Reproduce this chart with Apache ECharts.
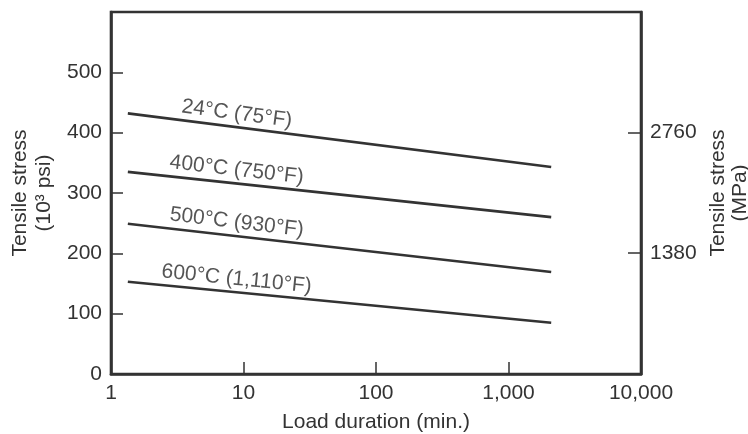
<!DOCTYPE html>
<html>
<head>
<meta charset="utf-8">
<script src="https://cdn.jsdelivr.net/npm/echarts@6/dist/echarts.min.js"></script>
<style>
html,body{margin:0;padding:0;background:#fff;}
#chart{width:748px;height:434px;}
</style>
</head>
<body>
<div id="chart"></div>
<script>
// Data (x = load duration in min., y = tensile stress in 10^3 psi)
var curveNames = ['24°C (75°F)', '400°C (750°F)', '500°C (930°F)', '600°C (1,110°F)'];
var durations = [1.34, 2100];
var stress24 = [432, 343];
var stress400 = [335, 260];
var stress500 = [249, 169];
var stress600 = [153, 85];
var xTickLabels = ['1', '10', '100', '1,000', '10,000'];
var mpaTicks = [1380, 2760];
// label anchor points on each curve (data coords)
var labelX = 8.7;
var labelY = [409, 316, 229, 135];
var labelRot = [-7.5, -6.5, -6.8, -5.8];

var allStress = [stress24, stress400, stress500, stress600];
var ink = '#333';
var font = 'Liberation Sans, Arial, Helvetica, sans-serif';

var series = allStress.map(function (s, i) {
  return {
    type: 'line',
    name: curveNames[i],
    data: durations.map(function (d, j) { return [d, s[j]]; }),
    showSymbol: false,
    symbol: 'none',
    lineStyle: { color: ink, width: 2.6 },
    silent: true,
    z: 3
  };
});
series.push({
  type: 'scatter',
  symbolSize: 0,
  silent: true,
  data: curveNames.map(function (n, i) {
    return {
      value: [labelX, labelY[i]],
      name: n,
      label: { rotate: labelRot[i] }
    };
  }),
  label: {
    show: true,
    position: 'top',
    distance: 3,
    formatter: function (p) { return p.name; },
    color: '#2a2a2a',
    fontSize: 21,
    fontFamily: font
  }
});

var chart = echarts.init(document.getElementById('chart'), null, { renderer: 'canvas' });
chart.setOption({
  backgroundColor: '#fff',
  animation: false,
  grid: {
    left: 111, right: 107, top: 12, bottom: 60,
    outerBoundsMode: 'none', containLabel: false,
    show: true, borderColor: ink, borderWidth: 2.6, backgroundColor: 'transparent'
  },
  xAxis: {
    type: 'log', logBase: 10, min: 1, max: 10000,
    name: 'Load duration (min.)', nameLocation: 'middle', nameGap: 38,
    nameTextStyle: { color: ink, fontSize: 21, fontFamily: font },
    axisLine: { show: true, lineStyle: { color: ink, width: 2.6 } },
    axisTick: { show: true, inside: true, length: 12, lineStyle: { color: ink, width: 1.5 } },
    minorTick: { show: false },
    splitLine: { show: false },
    axisLabel: {
      color: ink, fontSize: 21, fontFamily: font, margin: 9,
      formatter: function (v) {
        var idx = Math.round(Math.log10(v));
        return xTickLabels[idx] !== undefined ? xTickLabels[idx] : '';
      }
    }
  },
  yAxis: [{
    type: 'value', min: 0, max: 600, interval: 100,
    name: 'Tensile stress\n(10³ psi)', nameLocation: 'middle', nameGap: 53, nameRotate: 90,
    nameTextStyle: { color: ink, fontSize: 21, fontFamily: font, lineHeight: 24 },
    axisLine: { show: true, lineStyle: { color: ink, width: 2.6 } },
    axisTick: { show: true, inside: true, length: 12, lineStyle: { color: ink, width: 1.5 } },
    splitLine: { show: false },
    axisLabel: {
      color: ink, fontSize: 21, fontFamily: font, margin: 9,
      formatter: function (v) { return v >= 600 ? '' : String(v); }
    }
  }, {
    type: 'value', position: 'right', min: 0, max: 600 * 6.895, interval: 1380,
    name: 'Tensile stress\n(MPa)', nameLocation: 'middle', nameGap: 63, nameRotate: 90,
    nameTextStyle: { color: ink, fontSize: 21, fontFamily: font, lineHeight: 22 },
    axisLine: { show: true, lineStyle: { color: ink, width: 2.6 } },
    axisTick: { show: true, inside: true, length: 13, lineStyle: { color: ink, width: 1.5 } },
    splitLine: { show: false },
    axisLabel: {
      color: ink, fontSize: 21, fontFamily: font, margin: 9,
      formatter: function (v) { return mpaTicks.indexOf(v) >= 0 ? String(v) : ''; }
    }
  }],
  series: series
});
</script>
</body>
</html>
